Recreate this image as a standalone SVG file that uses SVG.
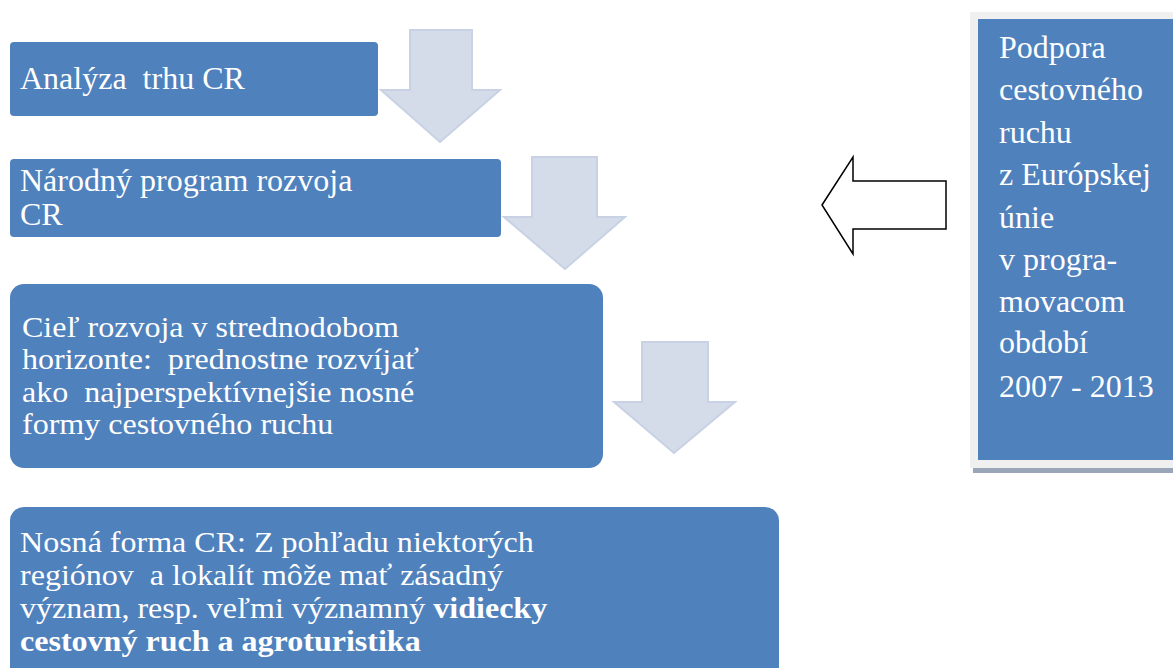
<svg xmlns="http://www.w3.org/2000/svg" width="1173" height="668" viewBox="0 0 1173 668">
<style>
.box{fill:#4f81bd}
.down{fill:#d4dcea;stroke:#c8d2e4;stroke-width:2}
.t{font-family:'Liberation Serif','DejaVu Serif','Times New Roman',Times,serif;font-size:32px;fill:#ffffff;white-space:pre}
.c{font-size:29px}
.b{font-weight:bold}
</style>
<rect width="1173" height="668" fill="#ffffff"/>
<g id="connectors">
<polygon class="down" points="410,30 472,30 472,90 500,90 440,142 381,90 410,90"/>
<polygon class="down" points="532,157 597,157 597,217 625,217 565,269 504,217 532,217"/>
<polygon class="down" points="642,342 708,342 708,402 735,402 674,453 614,402 642,402"/>
<polygon points="822,205 853,157 853,181 946,181 946,229 853,229 853,254" fill="#ffffff" stroke="#000000" stroke-width="1.5"/>
</g>
<g id="node-analyza">
<rect class="box" x="10" y="42" width="368" height="74" rx="4"/>
<text class="t" x="20" y="89">Analýza  trhu CR</text>
</g>
<g id="node-narodny">
<rect class="box" x="10" y="159" width="491" height="78" rx="4"/>
<text class="t" x="20" y="191">Národný program rozvoja</text>
<text class="t" x="20" y="225">CR</text>
</g>
<g id="node-ciel">
<rect class="box" x="10" y="284" width="593" height="184" rx="14"/>
<g transform="translate(22,0) scale(1.105,1)">
<text class="t c" x="0" y="337">Cieľ rozvoja v strednodobom</text>
<text class="t c" x="0" y="369">horizonte:  prednostne rozvíjať</text>
<text class="t c" x="0" y="402">ako  najperspektívnejšie nosné</text>
<text class="t c" x="0" y="434">formy cestovného ruchu</text>
</g>
</g>
<g id="node-nosna">
<rect class="box" x="10" y="507" width="769" height="180" rx="14"/>
<g transform="translate(20,0) scale(1.105,1)">
<text class="t c" x="0" y="552">Nosná forma CR: Z pohľadu niektorých</text>
<text class="t c" x="0" y="585">regiónov  a lokalít môže mať zásadný</text>
<text class="t c" x="0" y="618">význam, resp. veľmi významný <tspan class="b">vidiecky</tspan></text>
<text class="t c b" x="0" y="651">cestovný ruch a agroturistika</text>
</g>
</g>
<g id="node-podpora">
<rect x="973" y="468" width="200" height="5" fill="#9aa6b8"/>
<rect x="970" y="12" width="203" height="456" fill="#f0f0f0"/>
<rect class="box" x="978" y="19" width="195" height="441"/>
<text class="t" x="999" y="58">Podpora</text>
<text class="t" x="999" y="100">cestovného</text>
<text class="t" x="999" y="143">ruchu</text>
<text class="t" x="999" y="185">z Európskej</text>
<text class="t" x="999" y="228">únie</text>
<text class="t" x="999" y="270">v progra-</text>
<text class="t" x="999" y="312">movacom</text>
<text class="t" x="999" y="353">období</text>
<text class="t" x="999" y="397">2007 - 2013</text>
</g>
</svg>
